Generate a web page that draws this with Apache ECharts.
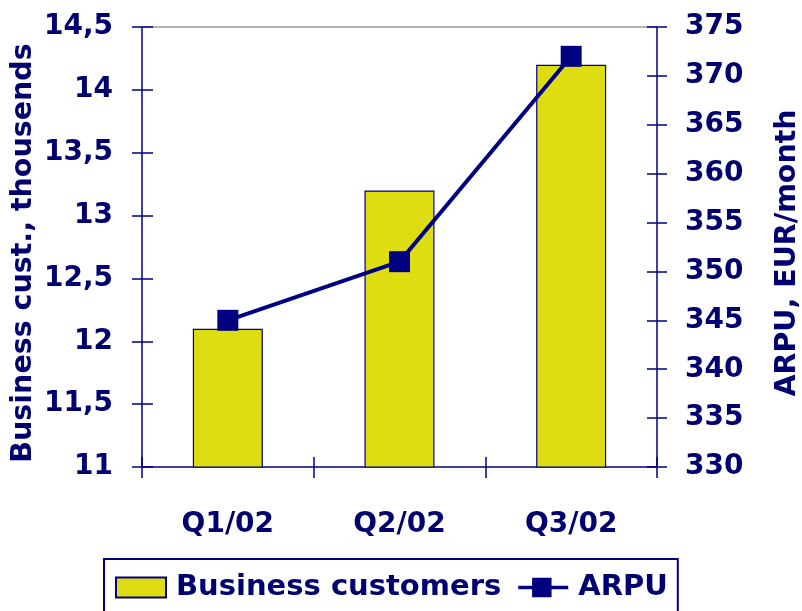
<!DOCTYPE html>
<html>
<head>
<meta charset="utf-8">
<script src="https://cdn.jsdelivr.net/npm/echarts@6/dist/echarts.min.js"></script>
<style>
  html, body { margin: 0; padding: 0; background: #fff; }
  #chart { width: 802px; height: 611px; }
</style>
</head>
<body>
<div id="chart"></div>
<script>
const quarters = ["Q1/02", "Q2/02", "Q3/02"]
const businessCustomers = [12.1, 13.2, 14.2]
const arpu = [345, 351, 372]

const navy = "#000080"
const textNavy = "#000070"
const font = "DejaVu Sans"

let myChart = echarts.init(document.getElementById('chart'), null, {renderer: 'canvas'})

const commaFormat = function (v) {
    return String(v).replace('.', ',')
}

const labelStyle = {color: textNavy, fontFamily: font, fontWeight: 'bold', fontSize: 28}
// axis titles sit a little below the plot middle in the reference
const nameStyle = Object.assign({}, labelStyle, {fontSize: 28.5, padding: [0, 12, 0, 0]})
// line + square marker, like the legend key of the reference
const lineKey = 'path://M0,8.5L15,8.5L15,0L36,0L36,8.5L54,8.5L54,12.5L36,12.5L36,21L15,21L15,12.5L0,12.5Z'

let option = {
    animation: false,
    backgroundColor: '#fff',
    grid: {left: 142, right: 145, top: 27, bottom: 144, outerBoundsMode: 'none', containLabel: false},
    legend: {
        left: 104, top: 559,
        padding: [14, 10, 16, 11],
        itemGap: 17,
        itemWidth: 50, itemHeight: 20,
        borderColor: navy, borderWidth: 2, borderRadius: 0,
        textStyle: {color: textNavy, fontFamily: font, fontWeight: 'bold', fontSize: 29, padding: [0, 0, 0, 5]},
        data: [
            {name: 'Business customers', icon: 'rect'},
            {name: 'ARPU', icon: lineKey, itemStyle: {color: navy, borderWidth: 0}}
        ]
    },
    xAxis: [
        {
            type: 'category', data: quarters, position: 'bottom',
            axisLine: {lineStyle: {color: navy, width: 1.5}},
            axisTick: {show: true, length: 11, lineStyle: {color: navy, width: 1.5}},
            axisLabel: Object.assign({margin: 44}, labelStyle)
        },
        {
            type: 'category', data: quarters, position: 'bottom',
            axisLine: {show: false},
            axisTick: {show: true, inside: true, length: 10, lineStyle: {color: navy, width: 1.5}},
            axisLabel: {show: false}
        },
        {
            type: 'category', data: quarters, position: 'top',
            axisLine: {lineStyle: {color: '#999', width: 1.5}},
            axisTick: {show: false},
            axisLabel: {show: false}
        }
    ],
    yAxis: [
        {
            type: 'value', position: 'left', min: 11, max: 14.5, interval: 0.5,
            name: 'Business cust., thousends', nameLocation: 'middle', nameGap: 104,
            nameMoveOverlap: false,
            nameTextStyle: nameStyle,
            axisLine: {show: true, lineStyle: {color: navy, width: 1.5}},
            axisTick: {show: true, length: 10, lineStyle: {color: navy, width: 1.5}},
            axisLabel: Object.assign({margin: 29, formatter: commaFormat}, labelStyle),
            splitLine: {show: false}
        },
        {
            type: 'value', position: 'right', min: 330, max: 375, interval: 5,
            name: 'ARPU, EUR/month', nameLocation: 'middle', nameGap: 116,
            nameTextStyle: nameStyle,
            axisLine: {show: true, lineStyle: {color: navy, width: 1.5}},
            axisTick: {show: true, length: 10, lineStyle: {color: navy, width: 1.5}},
            axisLabel: Object.assign({margin: 28}, labelStyle),
            splitLine: {show: false}
        },
        {
            type: 'value', position: 'left', min: 11, max: 14.5, interval: 0.5,
            axisLine: {show: false},
            axisTick: {show: true, inside: true, length: 11, lineStyle: {color: navy, width: 1.5}},
            axisLabel: {show: false}, splitLine: {show: false}
        },
        {
            type: 'value', position: 'right', min: 330, max: 375, interval: 5,
            axisLine: {show: false},
            axisTick: {show: true, inside: true, length: 10, lineStyle: {color: navy, width: 1.5}},
            axisLabel: {show: false}, splitLine: {show: false}
        }
    ],
    series: [
        {
            name: 'Business customers', type: 'bar', data: businessCustomers,
            xAxisIndex: 0, yAxisIndex: 0, barWidth: 70,
            itemStyle: {color: '#dddd11', borderColor: navy, borderWidth: 1.2}
        },
        {
            name: 'ARPU', type: 'line', data: arpu,
            xAxisIndex: 0, yAxisIndex: 1,
            symbol: 'rect', symbolSize: 21,
            lineStyle: {color: navy, width: 4},
            itemStyle: {color: navy}
        }
    ]
}
myChart.setOption(option)
</script>
</body>
</html>
